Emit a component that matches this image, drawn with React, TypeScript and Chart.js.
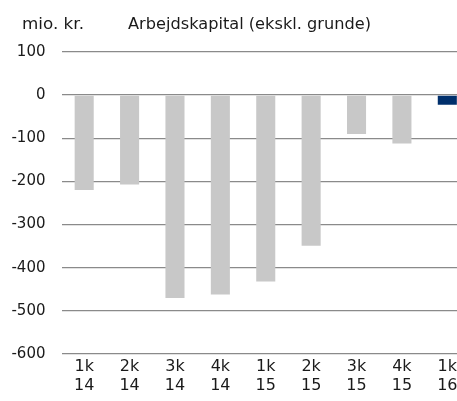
import React, { useEffect, useRef } from "react";
import { Chart, registerables } from "chart.js";

Chart.register(...registerables);

const categories: string[][] = [
  ["1k", "14"], ["2k", "14"], ["3k", "14"], ["4k", "14"],
  ["1k", "15"], ["2k", "15"], ["3k", "15"], ["4k", "15"], ["1k", "16"],
];
const values: number[] = [-220, -207, -470, -462, -432, -349, -90, -112, -22];
const barColors: string[] = [
  "#c8c8c8", "#c8c8c8", "#c8c8c8", "#c8c8c8", "#c8c8c8",
  "#c8c8c8", "#c8c8c8", "#c8c8c8", "#002f6c",
];
const unitLabel = "mio. kr.";
const titleText = "Arbejdskapital (ekskl. grunde)";
const yMin = -600;
const yMax = 100;
const yStep = 100;

const FONT = "'DejaVu Sans', Verdana, sans-serif";

const textPlugin = {
  id: "topTexts",
  afterDraw(chart: any) {
    const ctx = chart.ctx;
    ctx.save();
    ctx.fillStyle = "#1a1a1a";
    ctx.textBaseline = "alphabetic";
    ctx.textAlign = "left";
    ctx.font = `16.5px ${FONT}`;
    const w1 = ctx.measureText(unitLabel).width;
    ctx.save();
    ctx.translate(22, 28.5);
    ctx.scale(62 / w1, 1);
    ctx.fillText(unitLabel, 0, 0);
    ctx.restore();
    const w2 = ctx.measureText(titleText).width;
    ctx.translate(128, 28.5);
    ctx.scale(243 / w2, 1);
    ctx.fillText(titleText, 0, 0);
    ctx.restore();
  },
};

export default function App() {
  const ref = useRef<HTMLCanvasElement | null>(null);
  useEffect(() => {
    if (!ref.current) return;
    const chart = new Chart(ref.current, {
      type: "bar",
      data: {
        labels: categories,
        datasets: [
          {
            data: values,
            backgroundColor: barColors,
            borderWidth: 0,
            barPercentage: 0.42,
            categoryPercentage: 1,
          },
        ],
      },
      options: {
        animation: false,
        responsive: false,
        maintainAspectRatio: false,
        layout: { padding: { top: 52, left: 0, right: 0, bottom: 0 } },
        plugins: { legend: { display: false }, tooltip: { enabled: false }, title: { display: false } },
        scales: {
          x: {
            grid: { display: false, drawTicks: false },
            border: { display: false },
            ticks: {
              color: "#1a1a1a",
              font: { family: FONT, size: 16, lineHeight: 1.19 },
              padding: 3,
              maxRotation: 0,
              autoSkip: false,
            },
            afterFit(scale: any) {
              scale.height = 47;
            },
          },
          y: {
            min: yMin,
            max: yMax,
            grid: { color: "#8a8a8a", lineWidth: 1.3, drawTicks: false },
            border: { display: false },
            ticks: {
              stepSize: yStep,
              color: "#1a1a1a",
              font: { family: FONT, size: 15 },
              padding: 16,
            },
            afterFit(scale: any) {
              scale.width = 61.5;
            },
          },
        },
      },
      plugins: [textPlugin],
    });
    return () => chart.destroy();
  }, []);
  return (
    <div style={{ position: "fixed", left: 0, top: 0, width: 457, height: 401, overflow: "hidden", background: "#fff" }}>
      <canvas ref={ref} width={470} height={401} style={{ width: 470, height: 401, display: "block" }} />
    </div>
  );
}
